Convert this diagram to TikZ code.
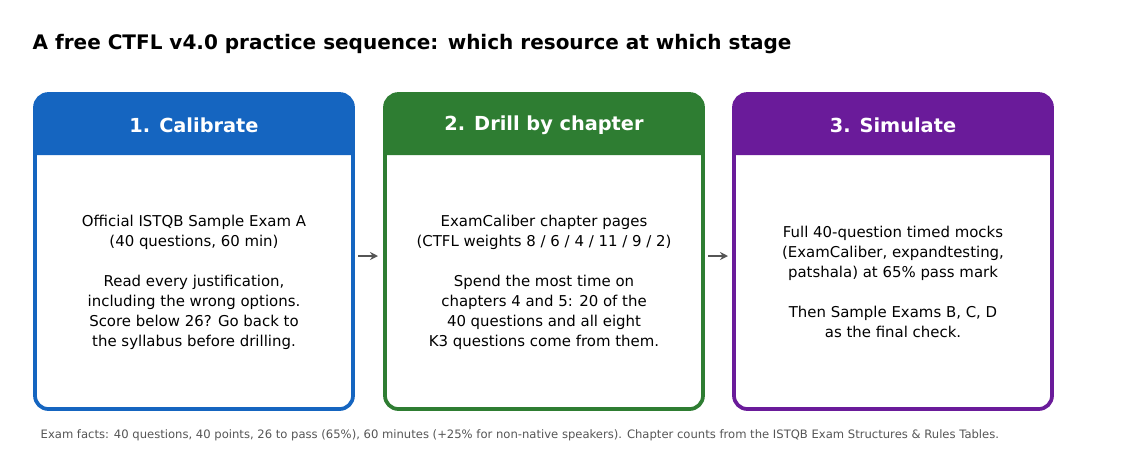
\documentclass[tikz,border=0pt]{standalone}
\usepackage{fontspec}
\setmainfont{DejaVu Sans}
\usetikzlibrary{arrows.meta}
\definecolor{cA}{HTML}{1565C0}
\definecolor{cB}{HTML}{2E7D32}
\definecolor{cC}{HTML}{6A1B9A}
\definecolor{gr}{HTML}{555555}
\begin{document}
\begin{tikzpicture}[x=0.75pt,y=-0.75pt,
  body/.style={align=center,font=\fontsize{11.2}{15}\selectfont,text=black},
  head/.style={font=\bfseries\fontsize{14.5}{17}\selectfont,text=white},
  arr/.style={-{Stealth[length=6pt,width=6pt]},line width=2.2pt,draw=gr}]
\useasboundingbox (0,0) rectangle (1122,462);
\node[anchor=west,font=\bfseries\fontsize{15}{18}\selectfont] (title) at (28,44) {A free CTFL v4.0 practice sequence: which resource at which stage};
\foreach \x/\c/\n in {35/cA/a,385/cB/b,734/cC/c}{
  \fill[white,rounded corners=10] (\x,94) rectangle ++(318,315);
  \fill[\c] (\x,155) [rounded corners=10]-- (\x,94) -- (\x+318,94) [sharp corners]-- (\x+318,155) -- cycle;
  \draw[\c,line width=2.8pt,rounded corners=10] (\x,94) rectangle ++(318,315);
  \coordinate (\n) at (\x+159,252);
}
\node[head] (ha) at (194,125) {1. Calibrate};
\node[head] (hb) at (544,125) {2. Drill by chapter};
\node[head] (hc) at (893,125) {3. Simulate};
\node[body] (ta) at (194,282) {Official ISTQB Sample Exam A\\(40 questions, 60 min)\\[15pt]Read every justification,\\including the wrong options.\\Score below 26? Go back to\\the syllabus before drilling.};
\node[body] (tb) at (544,282) {ExamCaliber chapter pages\\(CTFL weights 8 / 6 / 4 / 11 / 9 / 2)\\[15pt]Spend the most time on\\chapters 4 and 5: 20 of the\\40 questions and all eight\\K3 questions come from them.};
\node[body] (tc) at (893,282) {Full 40-question timed mocks\\(ExamCaliber, expandtesting,\\patshala) at 65\% pass mark\\[15pt]Then Sample Exams B, C, D\\as the final check.};
\coordinate (a1) at (358,256); \coordinate (b0) at (378,256);
\coordinate (b1) at (708,256); \coordinate (c0) at (728,256);
\draw[arr] (a1) -- (b0);
\draw[arr] (b1) -- (c0);
\node[anchor=west,text=gr,font=\fontsize{8.7}{10}\selectfont] (foot) at (36,435) {Exam facts: 40 questions, 40 points, 26 to pass (65\%), 60 minutes (+25\% for non-native speakers). Chapter counts from the ISTQB Exam Structures \& Rules Tables.};
\end{tikzpicture}
\end{document}
